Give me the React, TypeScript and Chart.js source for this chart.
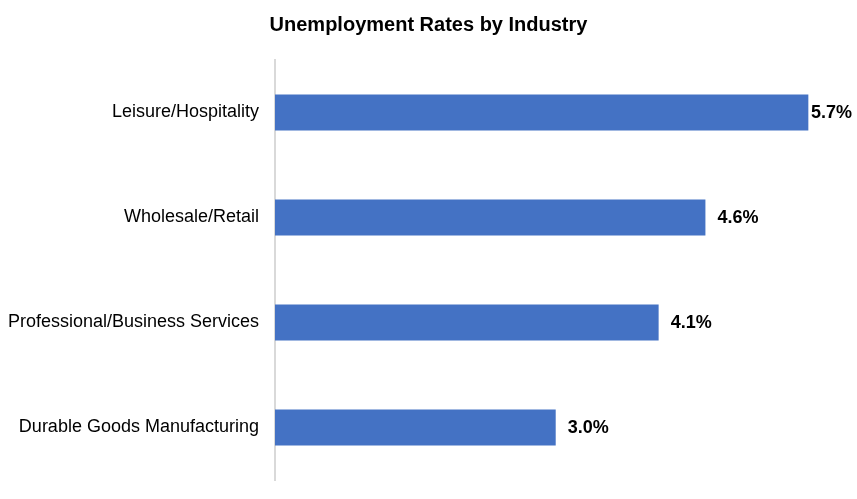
import React, { useEffect, useRef } from "react";
import { Chart, registerables } from "chart.js";

Chart.register(...registerables);

const categories = [
  "Leisure/Hospitality",
  "Wholesale/Retail",
  "Professional/Business Services",
  "Durable Goods Manufacturing",
];
const rates = [5.7, 4.6, 4.1, 3.0];

const valueLabels = {
  id: "valueLabels",
  afterDatasetsDraw(chart: any) {
    const ctx = chart.ctx;
    const meta = chart.getDatasetMeta(0);
    ctx.save();
    ctx.font = "bold 18px 'Liberation Sans', Arial, sans-serif";
    ctx.fillStyle = "#000000";
    ctx.textBaseline = "middle";
    ctx.textAlign = "left";
    meta.data.forEach((bar: any, i: number) => {
      const text = rates[i].toFixed(1) + "%";
      const w = ctx.measureText(text).width;
      let x = bar.x + 12;
      if (x + w > chart.width - 5) x = chart.width - 5 - w;
      ctx.fillText(text, x, bar.y + 1);
    });
    ctx.restore();
  },
};

export default function App() {
  const ref = useRef<HTMLCanvasElement>(null);
  useEffect(() => {
    document.body.style.margin = "0";
    const chart = new Chart(ref.current!, {
      type: "bar",
      data: {
        labels: categories,
        datasets: [
          {
            data: rates,
            backgroundColor: "#4472C4",
            categoryPercentage: 1,
            barPercentage: 0.345,
          },
        ],
      },
      options: {
        indexAxis: "y",
        animation: false,
        responsive: false,
        devicePixelRatio: 1,
        layout: { padding: { left: 0, right: 0, top: 0, bottom: 19 } },
        plugins: {
          legend: { display: false },
          tooltip: { enabled: false },
          title: {
            display: true,
            text: "Unemployment Rates by Industry",
            color: "#000000",
            font: { family: "'Liberation Sans', Arial, sans-serif", size: 20, weight: "bold" },
            padding: { top: 13, bottom: 23 },
          },
        },
        scales: {
          x: { display: false, min: 0, max: 6.22 },
          y: {
            grid: { display: false },
            border: { display: true, color: "#d9d9d9", width: 2 },
            afterFit: (scale: any) => {
              scale.width = 275;
            },
            ticks: {
              color: "#000000",
              padding: 8,
              font: { family: "'Liberation Sans', Arial, sans-serif", size: 18 },
            },
          },
        },
      },
      plugins: [valueLabels],
    });
    return () => chart.destroy();
  }, []);
  return <canvas ref={ref} width={857} height={499} style={{ display: "block" }} />;
}
